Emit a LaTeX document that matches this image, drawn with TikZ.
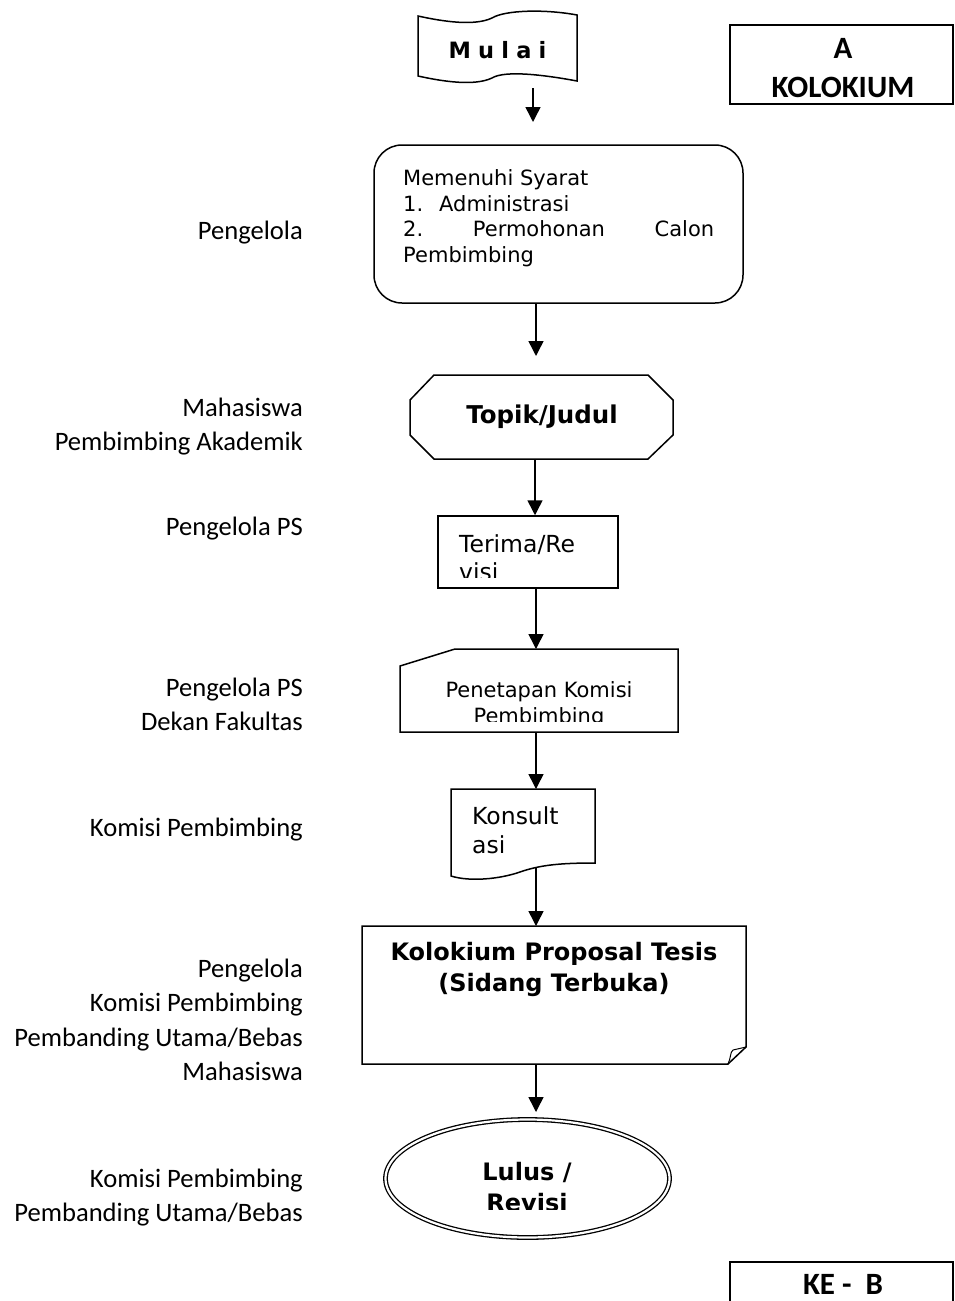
\documentclass[tikz,border=0pt]{standalone}
\usepackage{fontspec}
\setmainfont{DejaVu Sans}
\newfontfamily\calfont{Carlito}
\usetikzlibrary{arrows.meta,calc,shapes.geometric}
\newcommand\mysp{\hspace{7.2pt}}
\begin{document}
\begin{tikzpicture}[x=1pt,y=-1pt,
  outl/.style={line width=1.5pt, line join=miter},
  arr/.style={line width=1.5pt, -{Triangle[length=15pt,width=15pt]}},
  lbl/.style={anchor=base east, inner sep=0, font=\calfont\fontsize{26.6}{34}\selectfont},
  vt/.style={inner sep=0, font=\fontsize{21}{25.6}\selectfont},
  vtb/.style={inner sep=0, font=\bfseries\fontsize{24.5}{29}\selectfont},
  mtb/.style={inner sep=0, font=\bfseries\fontsize{22.5}{27}\selectfont},
  vl/.style={inner sep=0, font=\fontsize{23.5}{28.7}\selectfont},
  vlb/.style={inner sep=0, font=\bfseries\fontsize{24}{30}\selectfont},
  calb/.style={inner sep=0, font=\calfont\bfseries\fontsize{31}{39}\selectfont},
  area/.style={draw=none, inner sep=0, outer sep=0, rectangle},
  thickbox/.style={draw, line width=2.5pt, inner sep=0, rectangle}]
\clip (0,0) rectangle (955,1301);
\fill[white] (0,0) rectangle (955,1301);

% ---------- Mulai (tape) ----------
\node[area, minimum width=159pt, minimum height=66pt] (mulai) at (497.5,49) {};
\draw[outl] (418,16) .. controls (445,22) and (475,26) .. (492,18)
  .. controls (505,10) and (545,9) .. (577,15)
  -- (577,81) .. controls (545,75) and (505,70) .. (492,78)
  .. controls (475,86) and (445,82) .. (418,76) -- cycle;
\node[mtb, anchor=base] (mulaitxt) at (497.5,58.5) {M\mysp u\mysp l\mysp a\mysp i};

% ---------- A KOLOKIUM ----------
\node[thickbox, minimum width=223pt, minimum height=79pt] (boxa) at (841.5,64.5) {};
\node[calb, anchor=base] (boxa1) at (843,58) {A};
\node[calb, anchor=base] (boxa2) at (843,97) {KOLOKIUM};

% ---------- Memenuhi Syarat ----------
\node[draw, outl, rounded corners=28pt, inner sep=0, minimum width=369pt, minimum height=158pt] (rr) at (558.5,224) {};
\node[vt, anchor=base west] (rr1) at (403,185) {Memenuhi Syarat};
\node[vt, anchor=base west] (rr2) at (403,211) {\makebox[36pt][l]{1.}Administrasi};
\node[vt, anchor=base west] (rr3) at (403,236) {\makebox[311pt][s]{2.\hfill Permohonan\hfill Calon}};
\node[vt, anchor=base west] (rr4) at (403,262) {Pembimbing};

% ---------- Topik/Judul (octagon) ----------
\node[area, minimum width=263pt, minimum height=84pt] (topik) at (541.5,417) {};
\draw[outl] (434,375) -- (648,375) -- (673,400) -- (673,435) -- (648,459)
  -- (434,459) -- (410,435) -- (410,400) -- cycle;
\node[vtb, anchor=base] (topiktxt) at (542,423) {Topik/Judul};

% ---------- Terima/Revisi ----------
\node[draw, outl, inner sep=0, minimum width=180pt, minimum height=72pt] (terima) at (528,552) {};
\node[vl, anchor=base west] (terima1) at (459,552) {Terima/Re};
\begin{scope}
  \clip (440,560) rectangle (616,577.5);
  \node[vl, anchor=base west] (terima2) at (459,580.7) {visi};
\end{scope}

% ---------- Penetapan Komisi (manual input) ----------
\node[area, minimum width=278pt, minimum height=83pt] (pen) at (539,690.5) {};
\draw[outl] (400,666) -- (455,649) -- (678,649) -- (678,732) -- (400,732) -- cycle;
\node[vt, anchor=base] (pen1) at (539,697) {Penetapan Komisi};
\begin{scope}
  \clip (402,703) rectangle (676,721.5);
  \node[vt, anchor=base] (pen2) at (539,723.5) {Pembimbing};
\end{scope}

% ---------- Konsultasi (document) ----------
\node[area, minimum width=144pt, minimum height=88pt] (kons) at (523,833) {};
\draw[outl] (451,789) -- (595,789) -- (595,863)
  .. controls (560,863) and (540,865) .. (520,872)
  .. controls (500,879) and (470,882) .. (451,876) -- cycle;
\node[vl, anchor=base west] (kons1) at (472,824) {Konsult};
\node[vl, anchor=base west] (kons2) at (472,853) {asi};

% ---------- Kolokium (folded corner) ----------
\node[area, minimum width=384pt, minimum height=138pt] (kolo) at (554,995) {};
\draw[outl] (362,926) -- (746,926) -- (746,1047) -- (728,1064) -- (362,1064) -- cycle;
\draw[line width=1pt] (728,1064) .. controls (731,1058) and (730,1052) .. (733,1050) -- (746,1047);
\node[vlb, anchor=base] (kolo1) at (554,960) {Kolokium Proposal Tesis};
\node[vlb, anchor=base] (kolo2) at (554,991) {(Sidang Terbuka)};

% ---------- Lulus / Revisi (double ellipse) ----------
\node[ellipse, draw, double, line width=1.3pt, double distance=2.2pt, inner sep=0,
  minimum width=284pt, minimum height=118pt] (lulus) at (527.5,1178.5) {};
\node[vlb, anchor=base] (lulus1) at (527,1180) {Lulus /};
\begin{scope}
  \clip (400,1186) rectangle (660,1209);
  \node[vlb, anchor=base] (lulus2) at (527,1211) {Revisi};
\end{scope}

% ---------- KE - B ----------
\node[thickbox, minimum width=223pt, minimum height=70pt] (boxb) at (841.5,1297) {};
\node[calb, anchor=base] (boxbtxt) at (843,1294) {KE -\ \ B};

% ---------- connectors ----------
\coordinate (ax) at (536,0);
\coordinate (axt) at (535,0);
\coordinate (m1s) at (533,88);
\coordinate (m1e) at (533,122);
\coordinate (a2e) at (536,356);
\coordinate (k6s) at (536,868);
\coordinate (a7e) at (536,1112);
\draw[arr] (m1s) -- (m1e);
\draw[arr] (ax |- rr.south) -- (a2e);
\draw[arr] (axt |- topik.south) -- (axt |- terima.north);
\draw[arr] (ax |- terima.south) -- (ax |- pen.north);
\draw[arr] (ax |- pen.south) -- (ax |- kons.north);
\draw[arr] (k6s) -- (ax |- kolo.north);
\draw[arr] (ax |- kolo.south) -- (a7e);

% ---------- role labels ----------
\node[lbl] (l1) at (303,239) {Pengelola};
\node[lbl] (l2a) at (303,416) {Mahasiswa};
\node[lbl] (l2b) at (303,450) {Pembimbing Akademik};
\node[lbl] (l3) at (303,535) {Pengelola PS};
\node[lbl] (l4a) at (303,696) {Pengelola PS};
\node[lbl] (l4b) at (303,730) {Dekan Fakultas};
\node[lbl] (l5) at (303,836) {Komisi Pembimbing};
\node[lbl] (l6a) at (303,977) {Pengelola};
\node[lbl] (l6b) at (303,1011) {Komisi Pembimbing};
\node[lbl] (l6c) at (303,1046) {Pembanding Utama/Bebas};
\node[lbl] (l6d) at (303,1080) {Mahasiswa};
\node[lbl] (l7a) at (303,1187) {Komisi Pembimbing};
\node[lbl] (l7b) at (303,1221) {Pembanding Utama/Bebas};
\end{tikzpicture}
\end{document}
